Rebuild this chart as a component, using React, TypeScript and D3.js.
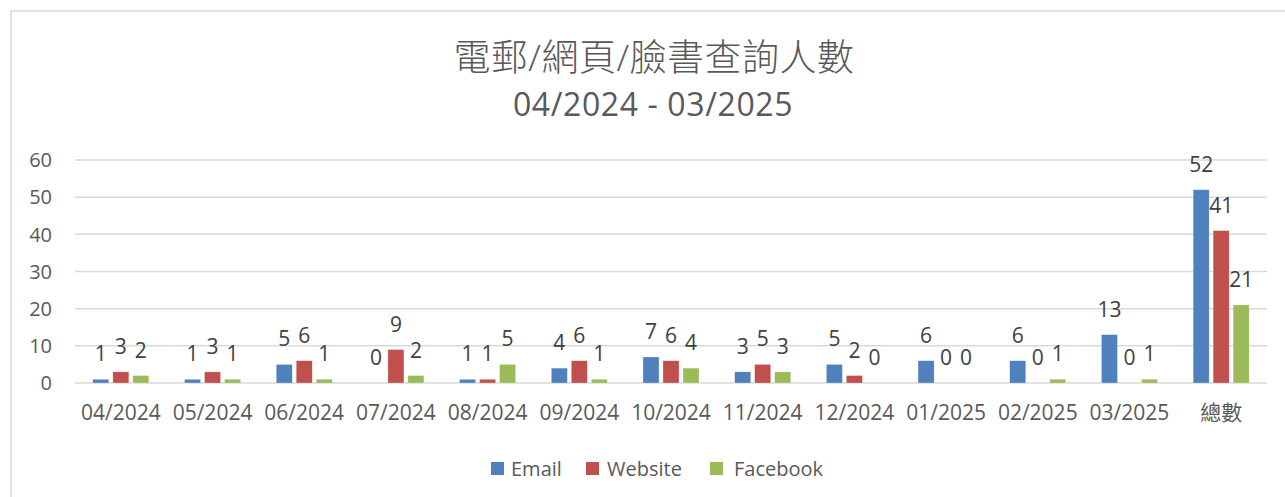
import React from 'react';
import * as d3 from 'd3';

const categories = ['04/2024', '05/2024', '06/2024', '07/2024', '08/2024', '09/2024', '10/2024', '11/2024', '12/2024', '01/2025', '02/2025', '03/2025', '總數'];
const seriesNames = ['Email', 'Website', 'Facebook'];
const emailValues = [1, 1, 5, 0, 1, 4, 7, 3, 5, 6, 6, 13, 52];
const websiteValues = [3, 3, 6, 9, 1, 6, 6, 5, 2, 0, 0, 0, 41];
const facebookValues = [2, 1, 1, 2, 5, 1, 4, 3, 0, 0, 1, 1, 21];
const yTicks = [0, 10, 20, 30, 40, 50, 60];
const titleLine1 = '電郵/網頁/臉書查詢人數';
const titleLine2 = '04/2024 - 03/2025';

const colors = ['#4F81BD', '#C0504D', '#9BBB59'];
const W = 1285;
const H = 497;
const left = 75;
const right = 1267;
const top = 160;
const bottom = 383;
const font = '"Open Sans", "Noto Sans CJK TC", sans-serif';
const textColor = '#595959';

const App = () => {
  const values = [emailValues, websiteValues, facebookValues];
  const x0 = d3.scaleBand().domain(categories).range([left, right]);
  const x1 = d3.scaleBand().domain(seriesNames).range([-28, 28]).paddingInner(0.2);
  const y = d3.scaleLinear().domain([0, 60]).range([bottom, top]);

  // legend layout (square x positions)
  const legendX = [491, 586, 710];
  const legendTextX = [511, 607, 734];

  return (
    <svg width={W} height={H} style={{ position: 'absolute', left: 0, top: 0, background: '#fff' }}>
      <rect x={11} y={11} width={1300} height={520} fill="#fff" stroke="#D9D9D9" strokeWidth={1.5} />

      <text x={654} y={71} textAnchor="middle" fontFamily={font} fontSize={37} fontWeight={300} letterSpacing={0.5} fill={textColor}>
        {titleLine1}
      </text>
      <text x={653} y={116} textAnchor="middle" fontFamily={font} fontSize={32} letterSpacing={0.6} fill={textColor}>
        {titleLine2}
      </text>

      {yTicks.map((t) => (
        <g key={t}>
          <line x1={left} x2={right} y1={y(t)} y2={y(t)} stroke="#D9D9D9" strokeWidth={1.5} />
          <text x={52} y={y(t)} dy="0.36em" textAnchor="end" fontFamily={font} fontSize={20} fill={textColor}>
            {t}
          </text>
        </g>
      ))}

      {categories.map((c, i) => {
        const cx = (x0(c) as number) + x0.bandwidth() / 2;
        return (
          <g key={c}>
            {seriesNames.map((s, k) => {
              const v = values[k][i];
              const bx = cx + (x1(s) as number);
              return (
                <g key={s}>
                  {v > 0 && (
                    <rect x={bx} y={y(v)} width={x1.bandwidth()} height={y(0) - y(v)} fill={colors[k]} stroke="#fff" strokeOpacity={0.5} strokeWidth={0.5} />
                  )}
                  <text x={bx + x1.bandwidth() / 2} y={y(v) - 18} textAnchor="middle" fontFamily={font} fontSize={21} fill="#404040">
                    {v}
                  </text>
                </g>
              );
            })}
            <text x={cx} y={420} textAnchor="middle" fontFamily={font} fontSize={21} fill={textColor}>
              {c}
            </text>
          </g>
        );
      })}

      {seriesNames.map((s, k) => (
        <g key={s}>
          <rect x={legendX[k]} y={462} width={13} height={13} fill={colors[k]} />
          <text x={legendTextX[k]} y={476} fontFamily={font} fontSize={20} fill={textColor}>
            {s}
          </text>
        </g>
      ))}
    </svg>
  );
};

export default App;
